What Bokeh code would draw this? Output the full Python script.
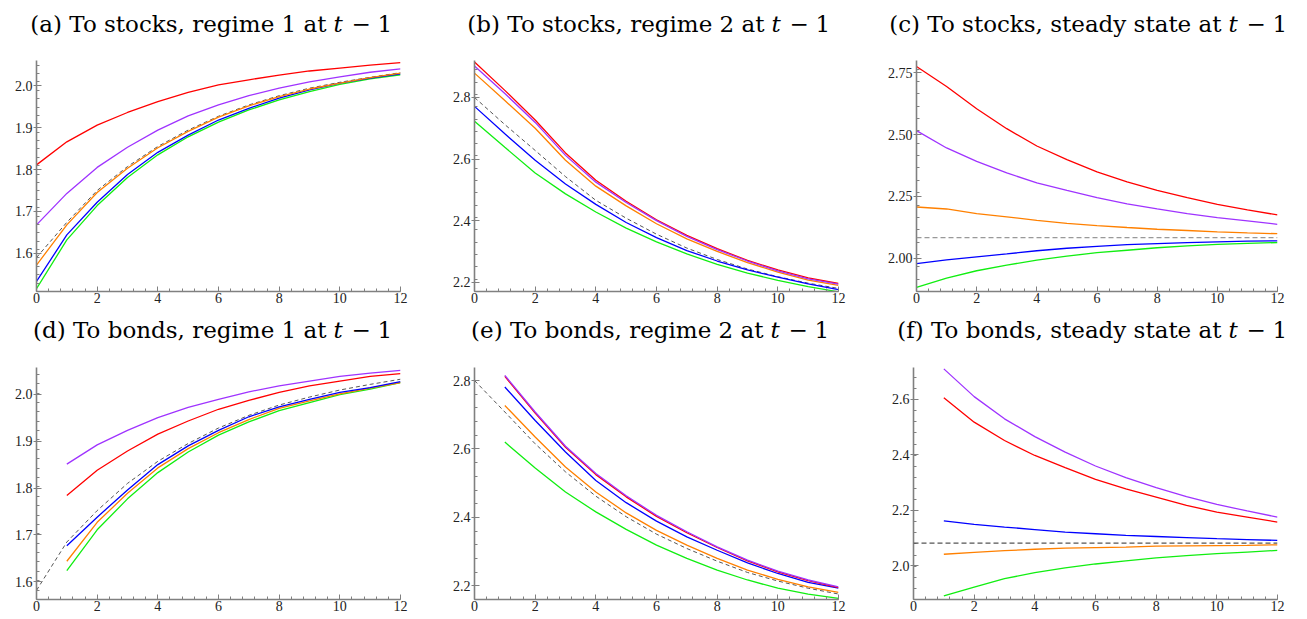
import numpy as np
from bokeh.plotting import figure
from bokeh.layouts import row, column
from bokeh.models import FixedTicker, Range1d, NumeralTickFormatter, Span
from bokeh.core.properties import value
from bokeh.embed import file_html
from bokeh.resources import INLINE

# ---------------- data ----------------
steps = list(range(13))        # horizons 0..12
steps1 = list(range(1, 13))    # horizons 1..12

# (a) To stocks, regime 1 at t-1
a_red = [1.811, 1.866, 1.906, 1.936, 1.962, 1.984, 2.002, 2.014, 2.025, 2.035, 2.042, 2.049, 2.055]
a_purple = [1.668, 1.743, 1.805, 1.853, 1.894, 1.928, 1.954, 1.976, 1.994, 2.009, 2.021, 2.032, 2.040]
a_orange = [1.572, 1.668, 1.745, 1.803, 1.852, 1.891, 1.925, 1.952, 1.974, 1.992, 2.006, 2.019, 2.030]
a_dash = [1.590, 1.674, 1.750, 1.807, 1.855, 1.894, 1.927, 1.954, 1.976, 1.994, 2.008, 2.020, 2.031]
a_blue = [1.533, 1.644, 1.722, 1.788, 1.841, 1.882, 1.918, 1.946, 1.970, 1.990, 2.006, 2.018, 2.028]
a_green = [1.516, 1.632, 1.714, 1.781, 1.835, 1.878, 1.913, 1.942, 1.966, 1.986, 2.003, 2.016, 2.026]

# (b) To stocks, regime 2 at t-1
b_red = [2.915, 2.823, 2.727, 2.620, 2.531, 2.463, 2.403, 2.352, 2.309, 2.271, 2.240, 2.214, 2.196]
b_purple = [2.902, 2.813, 2.719, 2.612, 2.525, 2.459, 2.400, 2.349, 2.306, 2.269, 2.237, 2.211, 2.194]
b_orange = [2.879, 2.790, 2.700, 2.596, 2.512, 2.448, 2.390, 2.341, 2.300, 2.264, 2.233, 2.207, 2.190]
b_dash = [2.800, 2.712, 2.628, 2.543, 2.466, 2.408, 2.356, 2.311, 2.274, 2.243, 2.218, 2.197, 2.180]
b_blue = [2.771, 2.682, 2.596, 2.519, 2.453, 2.394, 2.345, 2.303, 2.269, 2.240, 2.217, 2.195, 2.176]
b_green = [2.723, 2.638, 2.555, 2.487, 2.428, 2.376, 2.331, 2.292, 2.258, 2.230, 2.206, 2.186, 2.169]

# (c) To stocks, steady state at t-1
c_red = [2.776, 2.695, 2.605, 2.524, 2.454, 2.399, 2.349, 2.309, 2.274, 2.245, 2.218, 2.195, 2.175]
c_purple = [2.516, 2.446, 2.392, 2.345, 2.305, 2.274, 2.245, 2.220, 2.199, 2.180, 2.164, 2.151, 2.137]
c_orange = [2.207, 2.199, 2.180, 2.167, 2.153, 2.141, 2.132, 2.124, 2.117, 2.112, 2.106, 2.102, 2.099]
c_blue = [1.978, 1.993, 2.005, 2.017, 2.030, 2.040, 2.048, 2.055, 2.059, 2.063, 2.066, 2.069, 2.070]
c_green = [1.882, 1.919, 1.949, 1.972, 1.992, 2.008, 2.022, 2.032, 2.042, 2.050, 2.056, 2.060, 2.063]
c_steady = 2.083

# (d) To bonds, regime 1 at t-1
d_purple = [1.851, 1.892, 1.923, 1.950, 1.972, 1.989, 2.005, 2.018, 2.028, 2.038, 2.045, 2.051]
d_red = [1.784, 1.838, 1.879, 1.915, 1.943, 1.968, 1.987, 2.004, 2.018, 2.028, 2.038, 2.044]
d_blue = [1.677, 1.738, 1.796, 1.850, 1.890, 1.923, 1.952, 1.973, 1.989, 2.004, 2.014, 2.027]
d_orange = [1.644, 1.727, 1.789, 1.843, 1.884, 1.918, 1.946, 1.970, 1.986, 2.001, 2.013, 2.025]
d_green = [1.624, 1.711, 1.777, 1.833, 1.877, 1.913, 1.941, 1.965, 1.982, 1.999, 2.011, 2.025]
d_dash = [1.582, 1.685, 1.752, 1.810, 1.857, 1.895, 1.928, 1.955, 1.977, 1.994, 2.009, 2.021, 2.032]

# (e) To bonds, regime 2 at t-1
e_red = [2.812, 2.705, 2.605, 2.525, 2.460, 2.403, 2.355, 2.312, 2.273, 2.241, 2.215, 2.195]
e_purple = [2.815, 2.708, 2.608, 2.528, 2.463, 2.406, 2.358, 2.314, 2.275, 2.243, 2.217, 2.197]
e_blue = [2.781, 2.683, 2.591, 2.508, 2.443, 2.389, 2.343, 2.304, 2.267, 2.236, 2.210, 2.193]
e_orange = [2.727, 2.635, 2.547, 2.474, 2.413, 2.362, 2.319, 2.280, 2.246, 2.219, 2.197, 2.181]
e_green = [2.620, 2.544, 2.474, 2.416, 2.365, 2.319, 2.280, 2.246, 2.217, 2.193, 2.176, 2.163]
e_dash = [2.800, 2.708, 2.615, 2.533, 2.462, 2.402, 2.351, 2.309, 2.272, 2.239, 2.214, 2.193, 2.176]

# (f) To bonds, steady state at t-1
f_purple = [2.710, 2.610, 2.530, 2.466, 2.410, 2.360, 2.318, 2.282, 2.250, 2.222, 2.198, 2.176]
f_red = [2.606, 2.518, 2.452, 2.398, 2.354, 2.312, 2.278, 2.248, 2.218, 2.194, 2.176, 2.158]
f_blue = [2.162, 2.150, 2.140, 2.131, 2.122, 2.116, 2.110, 2.106, 2.102, 2.098, 2.095, 2.092]
f_orange = [2.042, 2.049, 2.055, 2.060, 2.064, 2.066, 2.068, 2.071, 2.072, 2.073, 2.074, 2.076]
f_green = [1.892, 1.924, 1.954, 1.976, 1.993, 2.007, 2.018, 2.029, 2.037, 2.044, 2.050, 2.056]
f_steady = 2.082

x_ticks = [0, 2, 4, 6, 8, 10, 12]

titles_top = ["(a) To stocks, regime 1 at", "(b) To stocks, regime 2 at", "(c) To stocks, steady state at"]
titles_bottom = ["(d) To bonds, regime 1 at", "(e) To bonds, regime 2 at", "(f) To bonds, steady state at"]

# ---------------- styling ----------------
RED, PURPLE, ORANGE, BLUE, GREEN = "#ff0000", "#9f33ff", "#ff8000", "#0000ff", "#11ee11"
AX = "#808080"
TICK_FONT = "Liberation Serif"
TITLE_FONT = "DejaVu Serif"
TITLE_SIZE = "23px"
TOTAL_W = 1299


def minor_list(lo, hi, step):
    n = int(round((hi - lo) / step))
    return [round(lo + i * step, 4) for i in range(n + 1)]


def panel(width, height, b_left, b_top, b_bottom, b_right, ylo, yhi, yticks, ystep, fmt,
          series, dash, dash_color):
    p = figure(width=width, height=height, output_backend="svg", toolbar_location=None,
               title=None, x_range=Range1d(0, 12), y_range=Range1d(ylo, yhi))
    p.min_border_left = b_left
    p.min_border_right = b_right
    p.min_border_top = b_top
    p.min_border_bottom = b_bottom
    p.outline_line_color = None
    p.grid.visible = False
    p.background_fill_color = "white"
    p.border_fill_color = "white"

    p.xaxis.ticker = FixedTicker(ticks=x_ticks, minor_ticks=minor_list(0, 12, 0.4))
    p.yaxis.ticker = FixedTicker(ticks=yticks, minor_ticks=minor_list(ylo - ystep, yhi + ystep, ystep))
    p.yaxis.formatter = NumeralTickFormatter(format=fmt)
    for ax in (p.xaxis, p.yaxis):
        ax.axis_line_color = AX
        ax.axis_line_width = 1.6
        ax.major_tick_line_color = AX
        ax.minor_tick_line_color = AX
        ax.major_tick_line_width = 1
        ax.minor_tick_line_width = 1
        ax.major_label_text_font = TICK_FONT
        ax.major_label_text_font_size = "14px"
        ax.major_label_text_color = "#222222"
        ax.minor_tick_out = 0
        ax.minor_tick_in = 3
        ax.major_tick_in = 5
    p.xaxis.major_tick_out = 0
    p.xaxis.major_label_standoff = 1
    p.yaxis.major_tick_out = 3
    p.yaxis.major_label_standoff = 1

    if isinstance(dash, (list, tuple)):
        p.line(steps, dash, line_color=dash_color, line_width=1, line_dash="4 3")
    else:
        p.add_layout(Span(location=dash, dimension="width", line_color=dash_color,
                          line_width=1.2, line_dash="5 3"))
    for xs, ys, col in series:
        p.line(xs, ys, line_color=col, line_width=1.3)
    return p


def title_strip(height, baseline_from_top, parts, t_lefts):
    s = figure(width=TOTAL_W, height=height, output_backend="svg", toolbar_location=None,
               title=None, x_range=Range1d(0, TOTAL_W), y_range=Range1d(0, height),
               x_axis_location=None, y_axis_location=None)
    s.min_border = 0
    s.outline_line_color = None
    s.grid.visible = False
    yb = height - baseline_from_top
    ys = [yb] * len(parts)
    common = dict(text_font=value(TITLE_FONT), text_font_size=TITLE_SIZE,
                  text_baseline="alphabetic", text_color="black")
    s.text(x=[t - 7 for t in t_lefts], y=ys, text=parts, text_align="right", **common)
    s.text(x=list(t_lefts), y=ys, text=["t"] * len(parts), text_font_style="italic",
           text_align="left", **common)
    s.text(x=[t + 18 for t in t_lefts], y=ys, text=["\u2212"] * len(parts),
           text_align="left", **common)
    s.text(x=[t + 44 for t in t_lefts], y=ys, text=["1"] * len(parts),
           text_align="left", **common)
    return s


W1, W2, W3 = 446, 438, 415
# top: strip 0-44, figures 44-313 (frame 60-291)
H1 = 269
# bottom: strip 313-357, figures 357-615 (frame 367-599)
H2 = 258

strip1 = title_strip(44, 23.5, titles_top, [333, 771, 1228])
strip2 = title_strip(44, 16, titles_bottom, [333, 770, 1228])

pa = panel(W1, H1, 36, 16, 22, 46, 1.509, 2.060, [1.6, 1.7, 1.8, 1.9, 2.0], 0.02, "0.0",
           [(steps, a_green, GREEN), (steps, a_blue, BLUE), (steps, a_orange, ORANGE),
            (steps, a_purple, PURPLE), (steps, a_red, RED)], a_dash, "#555555")
pb = panel(W2, H1, 28, 16, 22, 46, 2.170, 2.920, [2.2, 2.4, 2.6, 2.8], 0.04, "0.0",
           [(steps, b_green, GREEN), (steps, b_blue, BLUE), (steps, b_orange, ORANGE),
            (steps, b_red, RED), (steps, b_purple, PURPLE)], b_dash, "#555555")
pc = panel(W3, H1, 29, 16, 22, 22, 1.865, 2.800, [2.0, 2.25, 2.5, 2.75], 0.05, "0.00",
           [(steps, c_green, GREEN), (steps, c_blue, BLUE), (steps, c_orange, ORANGE),
            (steps, c_purple, PURPLE), (steps, c_red, RED)], c_steady, "#999999")

pd_ = panel(W1, H2, 36, 10, 16, 46, 1.5625, 2.057, [1.6, 1.7, 1.8, 1.9, 2.0], 0.02, "0.0",
            [(steps1, d_green, GREEN), (steps1, d_orange, ORANGE), (steps1, d_blue, BLUE),
             (steps1, d_red, RED), (steps1, d_purple, PURPLE)], d_dash, "#555555")
pe = panel(W2, H2, 28, 10, 16, 46, 2.160, 2.838, [2.2, 2.4, 2.6, 2.8], 0.04, "0.0",
           [(steps1, e_green, GREEN), (steps1, e_orange, ORANGE), (steps1, e_blue, BLUE),
            (steps1, e_red, RED), (steps1, e_purple, PURPLE)], e_dash, "#555555")
pf = panel(W3, H2, 29, 10, 16, 22, 1.879, 2.715, [2.0, 2.2, 2.4, 2.6], 0.04, "0.0",
           [(steps1, f_green, GREEN), (steps1, f_orange, ORANGE), (steps1, f_blue, BLUE),
            (steps1, f_red, RED), (steps1, f_purple, PURPLE)], f_steady, "#555555")

layout = column(strip1, row(pa, pb, pc), strip2, row(pd_, pe, pf))
open("out.html", "w").write(file_html(layout, INLINE))
